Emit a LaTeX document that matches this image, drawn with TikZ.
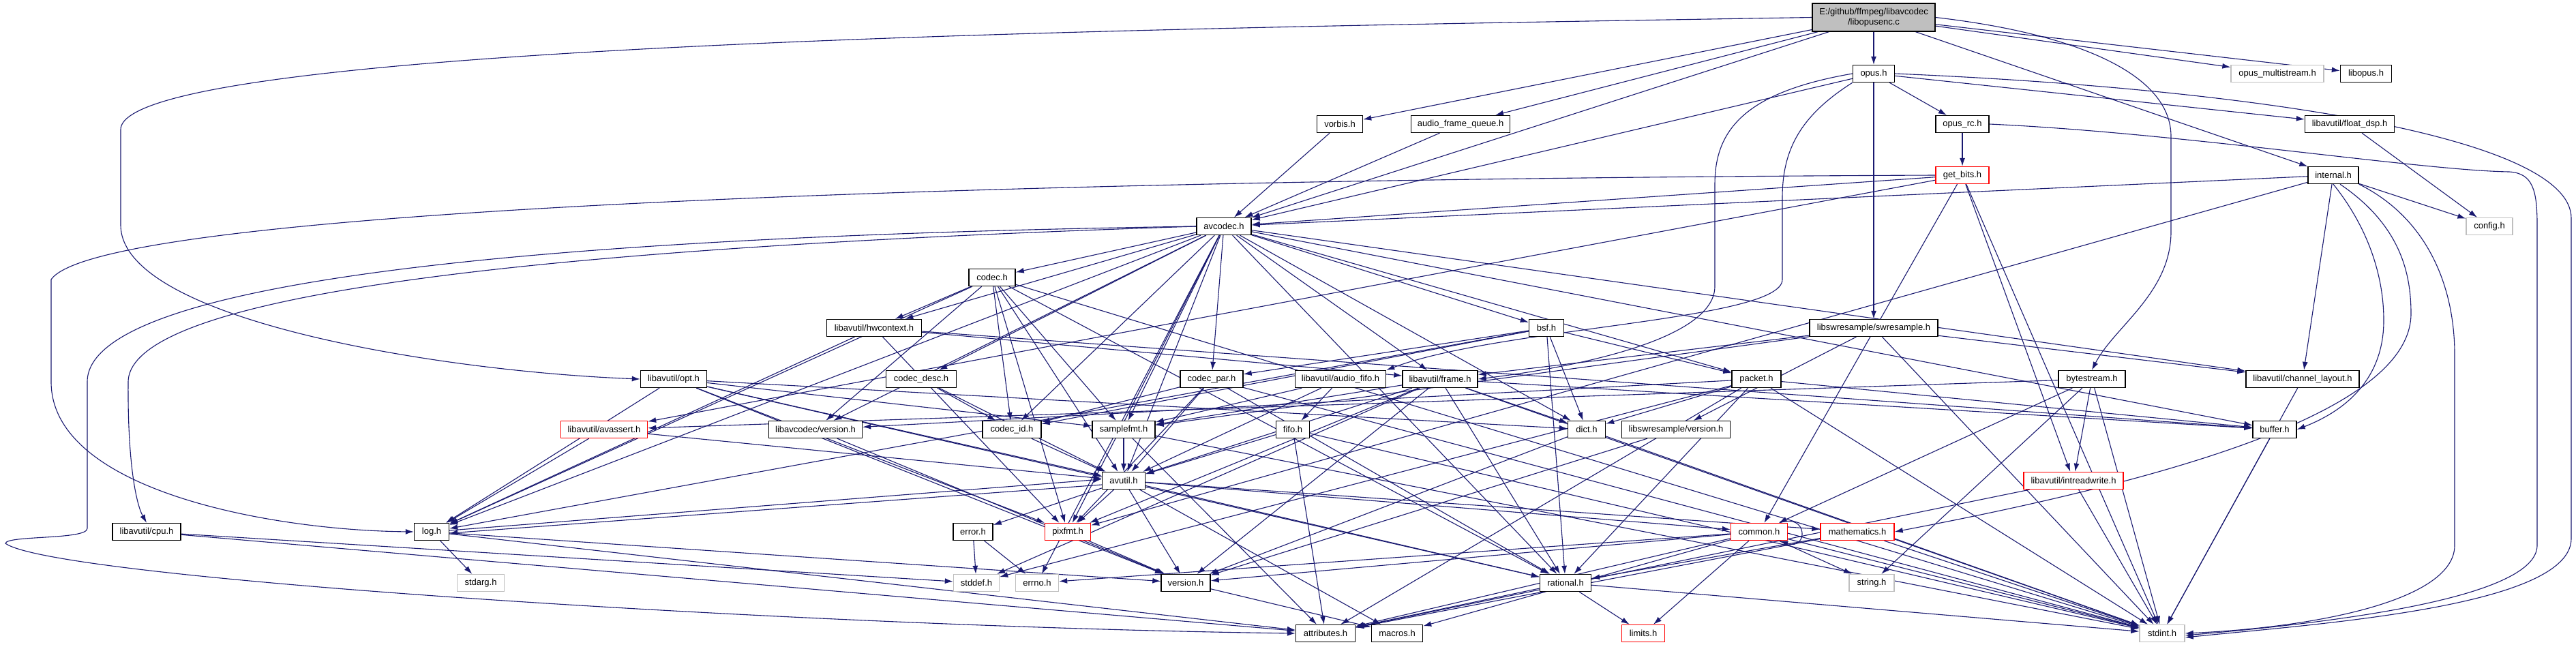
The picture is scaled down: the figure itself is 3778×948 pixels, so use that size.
\documentclass[tikz,border=0pt]{standalone}
\usepackage{fontspec}
\setmainfont{Liberation Sans}
\usetikzlibrary{arrows.meta}
\definecolor{edgec}{HTML}{191970}
\definecolor{greyb}{HTML}{BFBFBF}
\definecolor{redb}{HTML}{FF0000}
\pgfdeclarelayer{edgelayer}
\pgfsetlayers{edgelayer,main}
\tikzset{
 nd/.style={draw=black, line width=1.4pt, fill=white, minimum height=25pt, inner sep=0pt, font=\fontsize{13}{15}\selectfont},
 rednd/.style={nd, draw=redb},
 grynd/.style={nd, draw=greyb},
 edge/.style={draw=edgec, line width=1.1pt, -{Latex[length=12pt,width=8pt]}},
}
\begin{document}
\begin{tikzpicture}[x=1pt,y=-1pt]
\begin{pgfonlayer}{edgelayer}
\fill[white] (0,0) rectangle (3778,948);
\end{pgfonlayer}
\useasboundingbox (0,0) rectangle (3778,948);
% nodes
\node[nd, fill=greyb, minimum width=180, minimum height=41, align=center] (main) at (2748,25.5) {E:/github/ffmpeg/libavcodec\\/libopusenc.c};
\node[nd, minimum width=61] (opush) at (2748,108) {opus.h};
\node[grynd, minimum width=136] (opusms) at (3340,108) {opus\_multistream.h};
\node[nd, minimum width=75] (libopus) at (3470,108) {libopus.h};
\node[nd, minimum width=67] (vorbis) at (1965,182) {vorbis.h};
\node[nd, minimum width=145] (afq) at (2142,182) {audio\_frame\_queue.h};
\node[nd, minimum width=78] (opusrc) at (2878,182) {opus\_rc.h};
\node[nd, minimum width=131] (floatdsp) at (3446,182) {libavutil/float\_dsp.h};
\node[rednd, minimum width=78] (getbits) at (2878,257) {get\_bits.h};
\node[nd, minimum width=74] (internal) at (3422,257) {internal.h};
\node[grynd, minimum width=68] (config) at (3651,332) {config.h};
\node[nd, minimum width=80] (avcodec) at (1795,332) {avcodec.h};
\node[nd, minimum width=68] (codec) at (1455,407) {codec.h};
\node[nd, minimum width=139] (hwctx) at (1282,481) {libavutil/hwcontext.h};
\node[nd, minimum width=51] (bsf) at (2268,481) {bsf.h};
\node[nd, minimum width=188] (swr) at (2748,481) {libswresample/swresample.h};
\node[nd, minimum width=97] (opt) at (988,556) {libavutil/opt.h};
\node[nd, minimum width=103] (codecdesc) at (1351,556) {codec\_desc.h};
\node[nd, minimum width=92] (codecpar) at (1777,556) {codec\_par.h};
\node[nd, minimum width=133] (audiofifo) at (1966,556) {libavutil/audio\_fifo.h};
\node[nd, minimum width=110] (frame) at (2112,556) {libavutil/frame.h};
\node[nd, minimum width=72] (packet) at (2576,556) {packet.h};
\node[nd, minimum width=98] (bytestream) at (3068,556) {bytestream.h};
\node[nd, minimum width=166] (chlayout) at (3377,556) {libavutil/channel\_layout.h};
\node[rednd, minimum width=127] (avassert) at (886,630) {libavutil/avassert.h};
\node[nd, minimum width=137] (lavcver) at (1196,630) {libavcodec/version.h};
\node[nd, minimum width=86] (codecid) at (1484,630) {codec\_id.h};
\node[nd, minimum width=92] (samplefmt) at (1648,630) {samplefmt.h};
\node[nd, minimum width=49] (fifo) at (1896,630) {fifo.h};
\node[nd, minimum width=55] (dict) at (2327,630) {dict.h};
\node[nd, minimum width=159] (swrver) at (2458,630) {libswresample/version.h};
\node[nd, minimum width=64] (buffer) at (3336,630) {buffer.h};
\node[nd, minimum width=63] (avutil) at (1648,705) {avutil.h};
\node[rednd, minimum width=146] (intrw) at (3041,705) {libavutil/intreadwrite.h};
\node[nd, minimum width=100] (cpu) at (215,780) {libavutil/cpu.h};
\node[nd, minimum width=51] (log) at (633,780) {log.h};
\node[nd, minimum width=58] (error) at (1427,780) {error.h};
\node[rednd, minimum width=67] (pixfmt) at (1566,780) {pixfmt.h};
\node[rednd, minimum width=83] (common) at (2580,780) {common.h};
\node[rednd, minimum width=108] (math) at (2724,780) {mathematics.h};
\node[grynd, minimum width=69] (stdarg) at (705,855) {stdarg.h};
\node[grynd, minimum width=67] (stddef) at (1432,855) {stddef.h};
\node[grynd, minimum width=63] (errno) at (1521,855) {errno.h};
\node[nd, minimum width=72] (version) at (1739,855) {version.h};
\node[nd, minimum width=75] (rational) at (2296,855) {rational.h};
\node[grynd, minimum width=66] (string) at (2745,855) {string.h};
\node[nd, minimum width=87] (attributes) at (1944,929) {attributes.h};
\node[nd, minimum width=75] (macros) at (2049,929) {macros.h};
\node[rednd, minimum width=63] (limits) at (2410,929) {limits.h};
\node[grynd, minimum width=66] (stdint) at (3171,929) {stdint.h};
% edges
\begin{pgfonlayer}{edgelayer}
\foreach \a/\b in {main/opush, main/opusms, main/libopus, main/vorbis, main/afq, main/avcodec, main/internal,
 opush/floatdsp, opush/swr, opush/avcodec, opush/opusrc, opusrc/getbits, floatdsp/config,
 getbits/avcodec, getbits/stdint, getbits/common, getbits/intrw, getbits/avassert,
 internal/avcodec, internal/pixfmt, internal/chlayout, internal/config,
 vorbis/avcodec, afq/avcodec,
 avcodec/errno, avcodec/samplefmt, avcodec/avutil, avcodec/buffer, avcodec/chlayout, avcodec/dict, avcodec/frame,
 avcodec/hwctx, avcodec/log, avcodec/pixfmt, avcodec/rational, avcodec/bsf, avcodec/codec, avcodec/codecdesc,
 avcodec/codecpar, avcodec/codecid, avcodec/packet, avcodec/lavcver,
 codec/stdint, codec/avutil, codec/hwctx, codec/log, codec/pixfmt, codec/rational, codec/samplefmt, codec/codecid, codec/lavcver,
 hwctx/buffer, hwctx/frame, hwctx/log, hwctx/pixfmt,
 bsf/dict, bsf/log, bsf/rational, bsf/codecid, bsf/codecpar, bsf/packet,
 swr/stdint, swr/chlayout, swr/frame, swr/samplefmt, swr/swrver,
 opt/rational, opt/avutil, opt/dict, opt/log, opt/pixfmt, opt/samplefmt, opt/version,
 codecdesc/avutil, codecdesc/codecid,
 codecpar/stdint, codecpar/avutil, codecpar/rational, codecpar/pixfmt, codecpar/codecid,
 audiofifo/avutil, audiofifo/fifo, audiofifo/samplefmt,
 frame/stddef, frame/stdint, frame/avutil, frame/buffer, frame/dict, frame/rational, frame/samplefmt, frame/pixfmt, frame/version,
 packet/stddef, packet/stdint, packet/attributes, packet/buffer, packet/dict, packet/rational, packet/lavcver,
 bytestream/avassert, bytestream/common, bytestream/intrw, bytestream/string, bytestream/stdint,
 chlayout/stdint, avassert/log, avassert/avutil, lavcver/version, codecid/avutil,
 samplefmt/stdint, samplefmt/avutil, samplefmt/attributes,
 fifo/stdint, fifo/avutil, fifo/attributes,
 dict/stdint, dict/version, swrver/version, buffer/stdint,
 avutil/common, avutil/error, avutil/rational, avutil/version, avutil/macros, avutil/math, avutil/pixfmt,
 intrw/stdint, intrw/attributes, cpu/stddef, cpu/attributes,
 log/stdarg, log/attributes, log/version, error/errno, error/stddef, pixfmt/version,
 common/errno, common/limits, common/stdint, common/string, common/attributes, common/macros, common/version,
 math/stdint, math/attributes, math/rational, version/macros,
 rational/stdint, rational/limits, rational/attributes}
 \draw[edge] (\a) -- (\b);
% routed edges
\draw[edge] (main.west) .. controls (1800,40) and (177,60) .. (177,190) -- (177,330) .. controls (177,470) and (650,545) .. (opt.west);
\draw[edge] (getbits.west) .. controls (1600,262) and (150,300) .. (75,410) -- (75,560) .. controls (75,720) and (400,778) .. (log.west);
\draw[edge] (avcodec.west) .. controls (900,345) and (128,400) .. (128,560) -- (128,775) .. controls (128,792) and (10,785) .. (8,797) .. controls (80,850) and (1200,920) .. (attributes.west);
\draw[edge] (avcodec.west) .. controls (900,360) and (190,420) .. (188,560) .. controls (187,680) and (200,740) .. (cpu.north);
\draw[edge] (opush.east) .. controls (3300,130) and (3771,200) .. (3771,320) -- (3771,790) .. controls (3771,890) and (3400,915) .. ([yshift=-6pt]stdint.east);
\draw[edge] (opush.west) .. controls (2560,135) and (2515,190) .. (2515,270) -- (2515,420) .. controls (2515,500) and (2300,540) .. (frame.east);
\draw[edge] (opush.south west) .. controls (2640,170) and (2614,220) .. (2614,290) -- (2614,410) .. controls (2614,470) and (2200,480) .. (audiofifo.north east);
\draw[edge] (main.east) .. controls (3050,50) and (3184,110) .. (3184,200) -- (3184,340) .. controls (3184,430) and (3100,480) .. (bytestream.north);
\draw[edge] (opusrc.east) .. controls (3200,195) and (3550,250) .. (3680,252) .. controls (3715,254) and (3721,280) .. (3721,330) -- (3721,800) .. controls (3721,880) and (3400,915) .. ([yshift=-3pt]stdint.east);
\draw[edge] (internal.south east) .. controls (3560,320) and (3600,420) .. (3600,520) -- (3600,800) .. controls (3600,880) and (3400,920) .. (stdint.east);
\draw[edge] (internal.south) .. controls (3470,330) and (3496,400) .. (3496,470) .. controls (3496,570) and (3420,610) .. (buffer.east);
\draw[edge] ([xshift=10pt]internal.south) .. controls (3520,330) and (3536,400) .. (3536,460) .. controls (3536,600) and (3200,700) .. (math.east);
\draw[edge] ([yshift=-6pt]avutil.west) -- ([yshift=-2pt]log.east);
\draw[edge] ([yshift=2pt]log.east) -- ([yshift=2pt]avutil.west);
\draw[edge] ([xshift=-12pt]common.north east) .. controls (2652,752) and (2652,808) .. ([xshift=-12pt]common.south east);
\end{pgfonlayer}
\end{tikzpicture}
\end{document}
